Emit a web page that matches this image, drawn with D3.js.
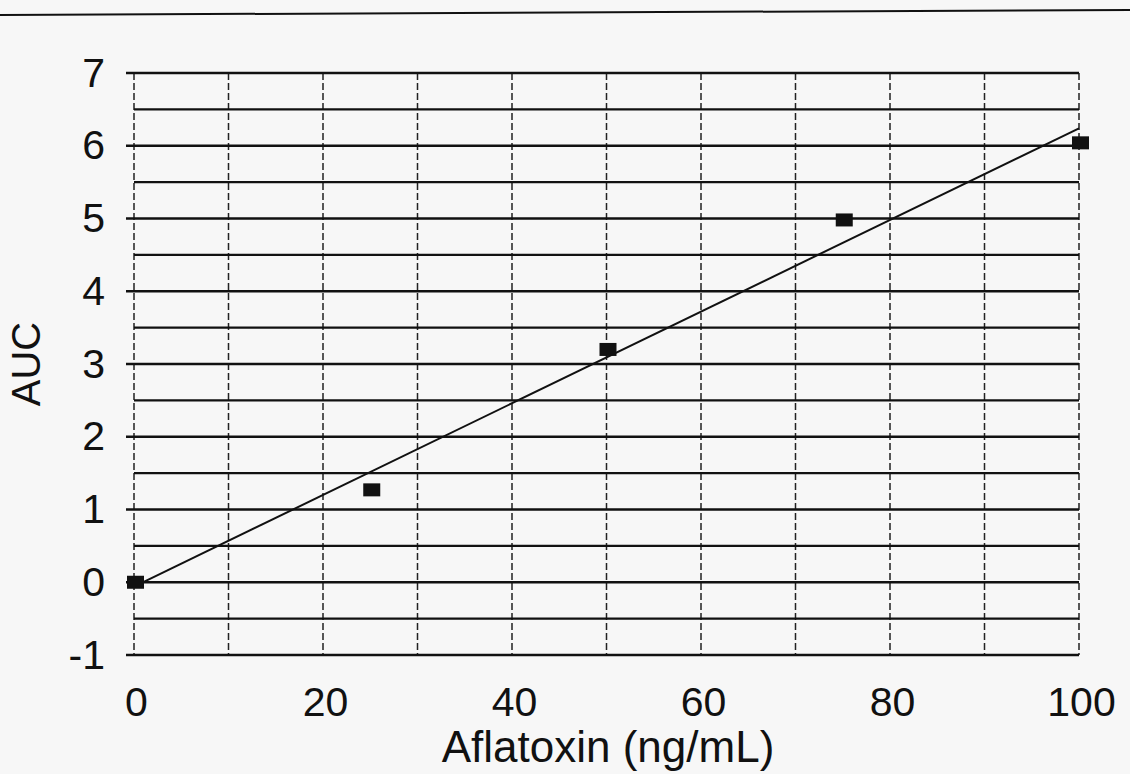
<!DOCTYPE html>
<html lang="en">
<head>
  <meta charset="UTF-8">
  <script src="https://d3js.org/d3.v7.min.js"></script>
  <style>
    body { margin: 0; background: #f7f7f7; }
    text { font-family: Arial, "Liberation Sans", sans-serif; fill: #111; }
  </style>
  <title>AUC vs Aflatoxin</title>
</head>
<body>
  <svg id="chart" width="1130" height="774"></svg>
  <script>
    // measured points
    var conc = [0, 25, 50, 75, 100];
    var auc = [0, 1.27, 3.2, 4.98, 6.04];
    // linear fit, end points
    var fitX = [0, 100];
    var fitY = [-0.06, 6.24];
    var xTicks = [0, 20, 40, 60, 80, 100];
    var yTicks = [-1, 0, 1, 2, 3, 4, 5, 6, 7];

    var svg = d3.select('#chart');
    var x = d3.scaleLinear().domain([0, 100]).range([134, 1079]);
    var y = d3.scaleLinear().domain([-1, 7]).range([655, 73]);

    // scan line across the top of the page
    svg.append('line').attr('x1', 0).attr('y1', 15).attr('x2', 1130).attr('y2', 10)
      .attr('stroke', '#111').attr('stroke-width', 2);

    // vertical dashed grid
    svg.append('g').selectAll('line').data(d3.range(0, 101, 10)).enter().append('line')
      .attr('x1', d => x(d)).attr('x2', d => x(d))
      .attr('y1', y(7)).attr('y2', y(-1))
      .attr('stroke', '#222').attr('stroke-width', 1.5)
      .attr('stroke-dasharray', '7,3');

    // horizontal grid every 0.5
    svg.append('g').selectAll('line').data(d3.range(-1, 7.01, 0.5)).enter().append('line')
      .attr('x1', d => Number.isInteger(d) ? x(0) - 8 : x(0)).attr('x2', x(100))
      .attr('y1', d => y(d)).attr('y2', d => y(d))
      .attr('stroke', '#111').attr('stroke-width', 2.4);

    // y axis labels
    svg.append('g').call(d3.axisLeft(y).tickValues(yTicks).tickFormat(d => String(d)).tickSize(0).tickPadding(0))
      .attr('transform', 'translate(105,0)')
      .call(g => g.select('.domain').remove())
      .selectAll('text').style('font-size', '41px').attr('fill', '#111')
      .attr('font-family', 'Arial, "Liberation Sans", sans-serif');

    // x axis labels
    svg.append('g').call(d3.axisBottom(x).tickValues(xTicks).tickFormat(d => String(d)).tickSize(0).tickPadding(0))
      .attr('transform', 'translate(2,687)')
      .call(g => g.select('.domain').remove())
      .selectAll('text').style('font-size', '41px').attr('fill', '#111')
      .attr('font-family', 'Arial, "Liberation Sans", sans-serif');

    // fit line
    var line = d3.line().x(d => x(d[0])).y(d => y(d[1]));
    svg.append('path').datum(fitX.map((v, i) => [v, fitY[i]]))
      .attr('d', line).attr('fill', 'none')
      .attr('stroke', '#111').attr('stroke-width', 2);

    // markers
    svg.append('g').selectAll('rect').data(conc.map((v, i) => [v, auc[i]])).enter().append('rect')
      .attr('x', d => x(d[0]) - 7).attr('y', d => y(d[1]) - 6.5)
      .attr('width', 17).attr('height', 13).attr('fill', '#111');

    // axis titles
    svg.append('text').attr('x', 608).attr('y', 762).attr('text-anchor', 'middle')
      .style('font-size', '44px').text('Aflatoxin (ng/mL)');
    svg.append('text').attr('transform', 'translate(40,364) rotate(-90)')
      .attr('text-anchor', 'middle').style('font-size', '40px').text('AUC');
  </script>
</body>
</html>
